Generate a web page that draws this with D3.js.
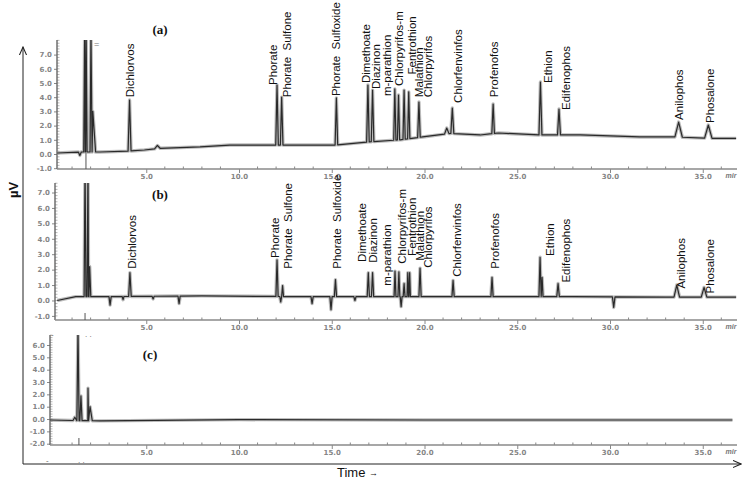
<!DOCTYPE html>
<html>
<head>
<meta charset="utf-8">
<script src="https://cdn.jsdelivr.net/npm/d3@7"></script>
<style>
  body { margin: 0; background: #fff; }
  svg { display: block; font-family: "Liberation Sans", Arial, sans-serif; }
  .lab { white-space: pre; font-size: 11.5px; fill: #111; }
  .tick text { font-family: "DejaVu Sans", sans-serif; font-size: 7px; fill: #858585; font-weight: bold; }
</style>
</head>
<body>
<svg id="chart" width="745" height="480"></svg>
<script>
// compound names, same order in panels (a) and (b)
const names = ["Dichlorvos", "Phorate", "Phorate  Sulfone", "Phorate  Sulfoxide", "Dimethoate",
  "Diazinon", "m-parathion", "Chlorpyrifos-m", "Fentrothion", "Malathion", "Chlorpyrifos",
  "Chlorfenvinfos", "Profenofos", "Ethion", "Edifenophos", "Anilophos", "Phosalone"];

// where each label starts (time in min, signal level)
const aLabelT = [4.12, 11.83, 12.59, 15.23, 16.85, 17.39, 17.98, 18.63, 19.3, 19.7, 20.19, 21.8, 23.75, 26.66, 27.63, 33.72, 35.39];
const aLabelV = [4.0, 4.86, 4.0, 4.08, 5.0, 4.58, 4.08, 4.79, 5.6, 4.0, 4.0, 3.6, 4.0, 5.0, 3.1, 2.4, 2.18];
const bLabelT = [4.23, 11.94, 12.64, 15.28, 16.63, 17.22, 17.98, 18.79, 19.33, 19.76, 20.19, 21.75, 23.8, 26.77, 27.63, 33.83, 35.39];
const bLabelV = [2.06, 2.76, 2.06, 2.06, 2.5, 2.44, 0.96, 2.38, 2.89, 2.57, 2.12, 1.54, 2.06, 2.89, 1.16, 0.77, 0.45];

// baselines (time, level)
const aBaseT = [0.2, 1.4, 2.5, 4.0, 4.9, 5.7, 7.9, 9.5, 12.0, 15.2, 17.0, 18.7, 19.9, 21.4, 23.0, 24.0, 26.2, 28.4, 31.6, 33.5, 35.4, 36.8];
const aBaseV = [0.07, 0.14, 0.14, 0.2, 0.28, 0.4, 0.5, 0.63, 0.63, 0.63, 0.85, 1.0, 1.2, 1.45, 1.34, 1.48, 1.34, 1.34, 1.2, 1.2, 1.1, 1.1];
const bBaseT = [0.2, 1.2, 3.0, 8.0, 13.0, 18.0, 23.0, 28.0, 33.0, 36.8];
const bBaseV = [0.0, 0.25, 0.25, 0.3, 0.25, 0.25, 0.25, 0.25, 0.22, 0.22];
const cBaseT = [-0.2, 1.0, 2.5, 10.0, 20.0, 30.0, 36.6];
const cBaseV = [-0.08, -0.12, -0.15, -0.05, -0.08, -0.08, -0.08];

// peaks: retention time (min), apex level, half width (min)
const aPeakT = [1.42, 1.68, 1.76, 2.02, 2.12, 4.1, 5.6, 12.05, 12.3, 15.25, 16.95, 17.2, 18.4, 18.6, 18.9, 19.15, 19.7, 21.2, 21.5, 23.7, 26.25, 27.25, 33.7, 35.3];
const aPeakV = [-0.1, 8.6, 8.6, 8.6, 3.0, 3.8, 0.6, 4.86, 4.0, 3.95, 4.86, 4.5, 4.58, 4.15, 4.5, 4.37, 3.66, 1.83, 3.24, 3.52, 5.07, 3.17, 2.25, 2.04];
const aPeakW = [0.08, 0.05, 0.05, 0.06, 0.15, 0.08, 0.15, 0.07, 0.07, 0.07, 0.07, 0.07, 0.06, 0.06, 0.06, 0.06, 0.07, 0.12, 0.08, 0.07, 0.08, 0.08, 0.2, 0.2];
const bPeakT = [1.7, 1.86, 1.95, 3.05, 3.75, 4.12, 5.37, 6.77, 12.05, 12.25, 12.35, 13.94, 14.96, 15.2, 16.25, 16.97, 17.2, 18.41, 18.62, 18.74, 18.9, 19.1, 19.2, 19.76, 21.54, 23.64, 26.23, 26.34, 27.2, 30.2, 33.6, 35.07];
const bPeakV = [9, 9, 2.2, -0.3, 0.05, 1.8, 0.1, -0.2, 2.63, -0.1, 0.96, -0.2, -0.6, 1.35, 0.0, 1.8, 1.8, 1.9, 1.85, -0.4, 1.1, 1.8, 1.8, 2.1, 1.3, 1.5, 2.8, 1.5, 1.1, -0.45, 1.0, 0.85];
const bPeakW = [0.05, 0.05, 0.06, 0.06, 0.05, 0.07, 0.06, 0.06, 0.06, 0.05, 0.05, 0.06, 0.06, 0.06, 0.06, 0.06, 0.06, 0.05, 0.05, 0.05, 0.05, 0.04, 0.04, 0.06, 0.06, 0.06, 0.06, 0.05, 0.07, 0.07, 0.15, 0.15];
const cPeakT = [1.15, 1.32, 1.48, 1.86, 1.97];
const cPeakV = [0.15, 7.5, 1.87, 2.5, 1.0];
const cPeakW = [0.1, 0.06, 0.06, 0.03, 0.12];

// injection marks
const injectT = [1.75, 1.7, 1.37];

// axis tick labels
const abTicks = [-1, 0, 1, 2, 3, 4, 5, 6, 7];
const cTicks = [-2, -1, 0, 1, 2, 3, 4, 5, 6];
const timeTicks = [5, 10, 15, 20, 25, 30, 35];

const svg = d3.select('#chart');
const x = d3.scaleLinear().domain([0, 35]).range([53.5, 702.75]);
const xRight = 737;

const panels = [
  {tag: '(a)', tagX: 160, tagY: 34, left: 57, top: 40, bottom: 169,
   y: d3.scaleLinear().domain([-1, 7]).range([168.2, 54.6]), ticks: abTicks,
   baseT: aBaseT, baseV: aBaseV, peakT: aPeakT, peakV: aPeakV, peakW: aPeakW,
   labT: aLabelT, labV: aLabelV, inj: injectT[0]},
  {tag: '(b)', tagX: 160, tagY: 199, left: 55, top: 183, bottom: 320,
   y: d3.scaleLinear().domain([-1, 7]).range([315.9, 192.5]), ticks: abTicks,
   baseT: bBaseT, baseV: bBaseV, peakT: bPeakT, peakV: bPeakV, peakW: bPeakW,
   labT: bLabelT, labV: bLabelV, inj: injectT[1]},
  {tag: '(c)', tagX: 150, tagY: 359, left: 50, top: 335, bottom: 445,
   y: d3.scaleLinear().domain([-2, 6]).range([443.7, 345]), ticks: cTicks,
   baseT: cBaseT, baseV: cBaseV, peakT: cPeakT, peakV: cPeakV, peakW: cPeakW,
   labT: null, labV: null, inj: injectT[2]}
];

function tracePoints(p) {
  const base = d3.scaleLinear().domain(p.baseT).range(p.baseV);
  const inPeak = t => p.peakT.some((pt, i) => Math.abs(t - pt) <= p.peakW[i]);
  const pts = p.baseT.filter(t => !inPeak(t)).map(t => [t, base(t)]);
  p.peakT.forEach((t, i) => {
    const w = p.peakW[i];
    pts.push([t - w, base(t - w)], [t, p.peakV[i]], [t + w, base(t + w)]);
  });
  return pts.sort((a, b) => a[0] - b[0]);
}

panels.forEach((p, k) => {
  const g = svg.append('g');
  const y = p.y;

  // clip to the plot area
  g.append('clipPath').attr('id', 'clip' + k)
    .append('rect').attr('x', p.left).attr('y', p.top)
    .attr('width', 742 - p.left).attr('height', p.bottom - p.top);

  // y axis
  const ya = g.append('g').attr('transform', `translate(${p.left},0)`)
    .call(d3.axisLeft(y).tickValues(p.ticks).tickSize(3).tickPadding(2).tickFormat(d => d.toFixed(1)));
  ya.select('.domain').remove();
  ya.selectAll('.tick line').attr('stroke', '#888');
  const minorY = d3.range(y.domain()[0], y.invert(p.top), 0.2);
  g.selectAll(null).data(minorY).join('line')
    .attr('x1', p.left).attr('x2', p.left + 2.5)
    .attr('y1', d => y(d)).attr('y2', d => y(d))
    .attr('stroke', '#999').attr('stroke-width', 0.7);
  g.append('line').attr('x1', p.left).attr('x2', p.left)
    .attr('y1', p.top).attr('y2', p.bottom)
    .attr('stroke', '#666').attr('stroke-width', 1.4);

  // x axis
  const xa = g.append('g').attr('transform', `translate(0,${p.bottom})`)
    .call(d3.axisBottom(x).tickValues(timeTicks).tickSize(4).tickPadding(1).tickFormat(d => d.toFixed(1)));
  xa.select('.domain').remove();
  xa.selectAll('.tick line').attr('stroke', '#888');
  const minorX = d3.range(1, 37).filter(d => d % 5 !== 0);
  g.selectAll(null).data(minorX).join('line')
    .attr('x1', d => x(d)).attr('x2', d => x(d))
    .attr('y1', p.bottom - 2.5).attr('y2', p.bottom)
    .attr('stroke', '#888').attr('stroke-width', 1);
  g.append('line').attr('x1', p.left).attr('x2', xRight)
    .attr('y1', p.bottom).attr('y2', p.bottom)
    .attr('stroke', '#8a8a8a').attr('stroke-width', 1.6);
  g.append('text').attr('x', xRight - 6).attr('y', p.bottom + 9)
    .attr('font-size', 7).attr('font-style', 'italic').attr('font-weight', 'bold')
    .attr('fill', '#777').attr('text-anchor', 'middle').text('mir');

  // injection mark
  g.append('line').attr('x1', x(p.inj)).attr('x2', x(p.inj))
    .attr('y1', k === 0 ? y(0.07) : p.bottom - 7).attr('y2', p.bottom)
    .attr('stroke', '#555').attr('stroke-width', 1);

  // trace
  const line = d3.line().x(d => x(d[0])).y(d => y(d[1]));
  const pts = tracePoints(p);
  const tr = g.append('g').attr('clip-path', `url(#clip${k})`);
  tr.append('path').attr('d', line(pts)).attr('fill', 'none')
    .attr('stroke', '#8f8f8f').attr('stroke-width', 3.4).attr('stroke-opacity', 0.6)
    .attr('stroke-linejoin', 'round');
  tr.append('path').attr('d', line(pts)).attr('fill', 'none')
    .attr('stroke', '#2a2a2a').attr('stroke-width', 1.2).attr('stroke-linejoin', 'round');

  // compound labels
  if (p.labT) {
    g.selectAll('text.lab').data(names).join('text').attr('class', 'lab')
      .attr('transform', (d, i) => `translate(${x(p.labT[i])},${y(p.labV[i])}) rotate(-90)`)
      .attr('dy', '0.35em').text(d => d);
  }

  // panel tag
  g.append('text').attr('x', p.tagX).attr('y', p.tagY).attr('text-anchor', 'middle')
    .attr('font-family', '"Liberation Serif", serif').attr('font-weight', 'bold')
    .attr('font-size', 13).attr('fill', '#111').text(p.tag);
});

// integration marks near the solvent peaks
svg.append('text').attr('x', 94).attr('y', 47).attr('font-size', 9).attr('fill', '#777').text('=');
svg.append('text').attr('x', 51).attr('y', 337).attr('font-size', 8).attr('fill', '#666').text('-');
svg.append('text').attr('x', 85).attr('y', 337).attr('font-size', 8).attr('fill', '#666').text('. .');
svg.append('text').attr('x', 46).attr('y', 463).attr('font-size', 8).attr('fill', '#666').text('-');
svg.append('text').attr('x', 78).attr('y', 463).attr('font-size', 8).attr('fill', '#666').text('. .');

// outer axes with arrows
svg.append('defs').append('marker').attr('id', 'arr')
  .attr('viewBox', '0 0 10 10').attr('refX', 9).attr('refY', 5)
  .attr('markerWidth', 9).attr('markerHeight', 9).attr('orient', 'auto')
  .append('path').attr('d', 'M0,1 L9,5 L0,9').attr('fill', 'none').attr('stroke', '#222').attr('stroke-width', 1.2);

svg.append('line').attr('x1', 23).attr('x2', 23).attr('y1', 464).attr('y2', 47)
  .attr('stroke', '#222').attr('stroke-width', 1).attr('marker-end', 'url(#arr)');
svg.append('line').attr('x1', 23).attr('x2', 741).attr('y1', 464).attr('y2', 464)
  .attr('stroke', '#222').attr('stroke-width', 1).attr('marker-end', 'url(#arr)');

svg.append('text').attr('transform', 'translate(18,190) rotate(-90)')
  .attr('text-anchor', 'middle').attr('font-weight', 'bold').attr('font-size', 13)
  .attr('fill', '#111').text('µV');

const tl = svg.append('text').attr('x', 337).attr('y', 477).attr('font-size', 13).attr('fill', '#111');
tl.append('tspan').text('Time ');
tl.append('tspan').attr('font-size', 9).attr('dy', -1).text('→');
</script>
</body>
</html>
